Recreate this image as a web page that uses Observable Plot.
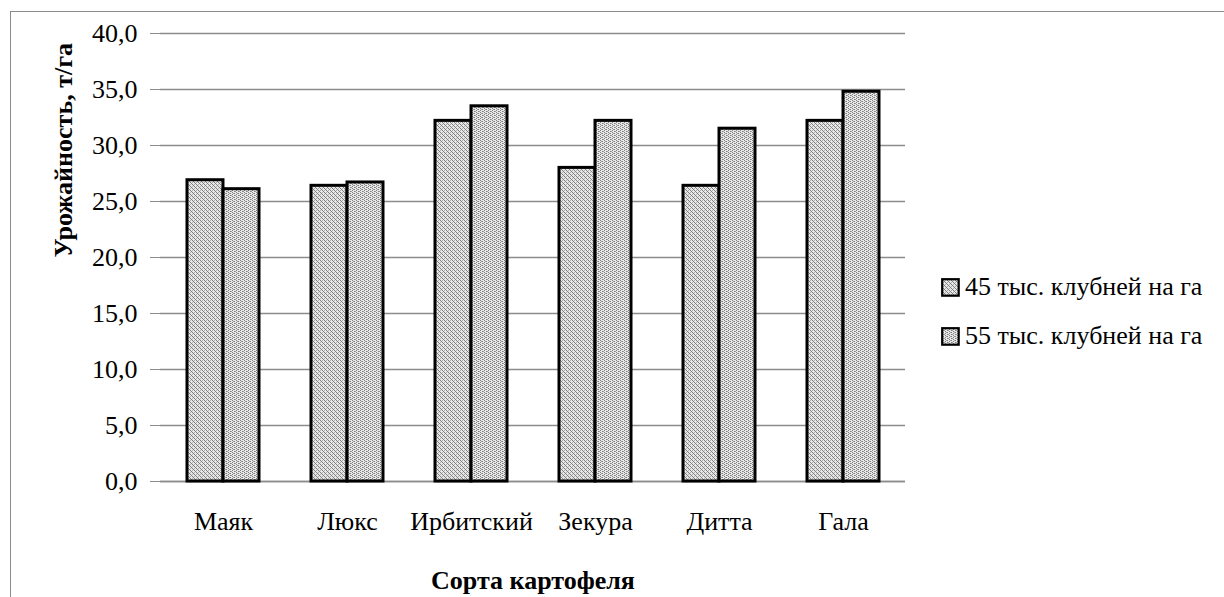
<!DOCTYPE html>
<html>
<head>
<meta charset="utf-8">
<script src="https://cdn.jsdelivr.net/npm/d3@7"></script>
<script src="https://cdn.jsdelivr.net/npm/@observablehq/plot@0.6"></script>
<style>
  html, body { margin: 0; padding: 0; background: #fff; }
  #wrap { position: relative; width: 1224px; height: 597px; overflow: hidden; }
  #frame { position: absolute; left: 10px; top: 11px; width: 1300px; height: 700px; border-left: 1px solid #8c8c8c; border-top: 1px solid #8c8c8c; }
  #chart { position: absolute; left: 0; top: 0; }
  #legend { position: absolute; left: 0; top: 0; }
</style>
</head>
<body>
<div id="wrap">
  <div id="frame"></div>
  <div id="chart"></div>
  <div id="legend"></div>
</div>
<script>
const categories = ["Маяк", "Люкс", "Ирбитский", "Зекура", "Дитта", "Гала"];
const seriesNames = ["45 тыс. клубней на га", "55 тыс. клубней на га"];
const values45 = [26.9, 26.4, 32.2, 28.0, 26.4, 32.2];
const values55 = [26.1, 26.7, 33.5, 32.2, 31.5, 34.8];
const yTicks = [0, 5, 10, 15, 20, 25, 30, 35, 40];
const yTitle = "Урожайность, т/га";
const xTitle = "Сорта картофеля";

const FONT = "'Liberation Serif', serif";
const FS = 26;
const W = 1224, H = 597, ML = 160, MR = 319, MT = 33, MB = 116;
const PAD_IN = 0.42, PAD_OUT = 0.21;

// bandwidth of the category scale, used to split each band into two adjacent bars
const band = d3.scaleBand().domain(categories).range([ML, W - MR]).paddingInner(PAD_IN).paddingOuter(PAD_OUT);
const half = band.bandwidth() / 2;

const rows45 = categories.map((c, i) => ({category: c, value: values45[i]}));
const rows55 = categories.map((c, i) => ({category: c, value: values55[i]}));

const fmt = d => d.toFixed(1).replace(".", ",");

const chart = Plot.plot({
  width: W,
  height: H,
  marginLeft: ML,
  marginRight: MR,
  marginTop: MT,
  marginBottom: MB,
  style: {fontFamily: FONT, fontSize: FS + "px", background: "transparent", color: "#000", overflow: "visible"},
  x: {domain: categories, paddingInner: PAD_IN, paddingOuter: PAD_OUT, label: null},
  y: {domain: [0, 40], label: null},
  marks: [
    Plot.gridY(yTicks, {stroke: "#8c8c8c", strokeOpacity: 1, strokeWidth: 1.3}),
    Plot.axisY(yTicks, {tickFormat: fmt, tickSize: 10, tickPadding: 13, stroke: "#8c8c8c", fontSize: FS, label: null}),
    Plot.axisX({tickSize: 0, tickPadding: 30, fontSize: FS, label: null}),
    Plot.ruleX([null], {dx: -(W - ML - MR) / 2, y1: 0, y2: 40, stroke: "#8c8c8c", strokeWidth: 1.3}),
    Plot.ruleY([0], {stroke: "#8c8c8c", strokeWidth: 1.5}),
    Plot.barY(rows45, {x: "category", y: "value", insetRight: half, fill: "url(#pat45)", stroke: "#000", strokeWidth: 3}),
    Plot.barY(rows55, {x: "category", y: "value", insetLeft: half, fill: "url(#pat55)", stroke: "#000", strokeWidth: 3}),
    Plot.text([yTitle], {frameAnchor: "left", dx: -96.5, rotate: -90, lineAnchor: "middle", fontWeight: "bold", fontSize: FS, text: d => d}),
    Plot.text([xTitle], {frameAnchor: "bottom", dy: 99.5, lineAnchor: "middle", fontWeight: "bold", fontSize: FS, text: d => d})
  ]
});

const patternDefs = `
    <pattern id="pat45" width="4" height="4" patternUnits="userSpaceOnUse">
      <rect width="4" height="4" fill="#e8e8e8"/>
      <rect x="0" y="0" width="1" height="1" fill="#7e7e7e"/>
      <rect x="1" y="1" width="1" height="1" fill="#7e7e7e"/>
      <rect x="2" y="2" width="1" height="1" fill="#7e7e7e"/>
      <rect x="3" y="3" width="1" height="1" fill="#7e7e7e"/>
      <rect x="2" y="0" width="1" height="1" fill="#acacac"/>
      <rect x="0" y="2" width="1" height="1" fill="#acacac"/>
    </pattern>
    <pattern id="pat55" width="4" height="4" patternUnits="userSpaceOnUse">
      <rect width="4" height="4" fill="#e8e8e8"/>
      <rect x="0" y="0" width="1" height="1" fill="#7e7e7e"/>
      <rect x="0" y="2" width="1" height="1" fill="#7e7e7e"/>
      <rect x="1" y="1" width="1" height="1" fill="#a0a0a0"/>
      <rect x="2" y="1" width="1" height="1" fill="#7e7e7e"/>
      <rect x="2" y="3" width="1" height="1" fill="#7e7e7e"/>
      <rect x="3" y="3" width="1" height="1" fill="#a0a0a0"/>
    </pattern>`;
const defs = document.createElementNS("http://www.w3.org/2000/svg", "defs");
defs.innerHTML = patternDefs;
chart.insertBefore(defs, chart.firstChild);
document.getElementById("chart").appendChild(chart);

// legend on the right, outside the plot frame
const legendRows = seriesNames.map((name, i) => ({name, pat: i === 0 ? "pat45" : "pat55", baseline: 296 + i * 49}));
const legendDiv = document.getElementById("legend");
legendRows.forEach(r => {
  const row = document.createElement("div");
  row.style.cssText = `position:absolute; left:941px; top:${r.baseline - 24}px; white-space:nowrap; font-family:'Liberation Serif', serif; font-size:${FS}px; line-height:30px; color:#000; display:flex; align-items:center;`;
  row.innerHTML = `<svg width="24" height="19" style="flex:none"><rect x="1.2" y="1.2" width="16.5" height="16.5" fill="url(#${r.pat})" stroke="#000" stroke-width="2.2"/></svg><span>${r.name}</span>`;
  legendDiv.appendChild(row);
});
</script>
</body>
</html>
